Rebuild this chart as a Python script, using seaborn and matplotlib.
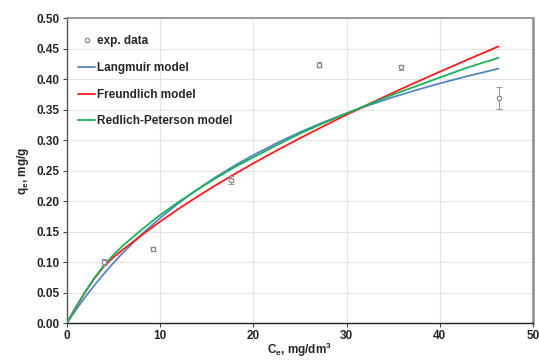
import matplotlib
matplotlib.use("Agg")
import matplotlib.pyplot as plt
from matplotlib.lines import Line2D
import numpy as np
import pandas as pd
import seaborn as sns

exp_c = [4.0, 9.3, 17.6, 27.1, 35.8, 46.3]
exp_q = [0.100, 0.122, 0.235, 0.424, 0.420, 0.370]
exp_err = [0.005, 0.003, 0.006, 0.004, 0.004, 0.018]

# model curves
model_c = [0, 1, 2, 3, 4, 5, 6, 8, 10, 12, 14, 16, 18, 20, 22.5, 25,
           27.5, 30, 32.5, 35, 37.5, 40, 43, 46.3]
langmuir_q = [0, 0.0223, 0.0432, 0.0628, 0.0813, 0.0987, 0.1151, 0.1453,
              0.1725, 0.1971, 0.2195, 0.2399, 0.2585, 0.2757, 0.2953,
              0.3132, 0.3295, 0.3444, 0.3581, 0.3708, 0.3825, 0.3933,
              0.4054, 0.4176]
freundlich_q = [0, 0.0265, 0.0515, 0.0740, 0.0935, 0.1080, 0.1205, 0.1440,
                0.1666, 0.1877, 0.2076, 0.2266, 0.2447, 0.2622, 0.2832,
                0.3034, 0.3229, 0.3418, 0.3602, 0.3781, 0.3955, 0.4125,
                0.4325, 0.4540]
redlich_q = [0, 0.027, 0.052, 0.075, 0.095, 0.112, 0.127, 0.153, 0.1775,
             0.199, 0.219, 0.238, 0.256, 0.272, 0.292, 0.311, 0.328, 0.344,
             0.360, 0.375, 0.389, 0.403, 0.4195, 0.4354]

models = [
    ("Langmuir model", langmuir_q, "#5585C8"),
    ("Freundlich model", freundlich_q, "#FF1A1A"),
    ("Redlich-Peterson model", redlich_q, "#1DB15A"),
]

sns.set_theme(style="white")
plt.rcParams["font.family"] = ["Liberation Sans", "DejaVu Sans"]
plt.rcParams["font.weight"] = "bold"
plt.rcParams["mathtext.fontset"] = "custom"
plt.rcParams["mathtext.rm"] = "Liberation Sans:bold"
plt.rcParams["mathtext.bf"] = "Liberation Sans:bold"
plt.rcParams["mathtext.it"] = "Liberation Sans:bold"

fig = plt.figure(figsize=(5.39, 3.6), dpi=100)
ax = fig.add_axes([0.1237, 0.102, 0.8653, 0.847])

ax.errorbar(exp_c, exp_q, yerr=exp_err, fmt="o", ms=3.2, mfc="white",
            mec="#808080", mew=0.8, ecolor="#999999", elinewidth=0.8,
            capsize=2, capthick=0.8, zorder=4)

handles = [Line2D([], [], ls="none", marker="o", ms=3.2, mfc="white",
                  mec="#808080", mew=0.8)]
labels = ["exp. data"]
for name, vals, col in models:
    df = pd.DataFrame({"c": model_c, "q": vals})
    sns.lineplot(data=df, x="c", y="q", color=col, lw=1.3, sort=False,
                 estimator=None, ax=ax, zorder=3)
    handles.append(Line2D([], [], color=col, lw=1.3))
    labels.append(name)

ax.set_xlim(0, 50)
ax.set_ylim(0, 0.5)
ax.set_xticks(np.arange(0, 51, 10))
ax.set_yticks(np.arange(0, 0.501, 0.05))
ax.set_yticklabels([f"{v:.2f}" for v in np.arange(0, 0.501, 0.05)])
ax.grid(True, color="#e3e3e3", lw=0.8)
ax.set_axisbelow(True)

for s in ["top", "right"]:
    ax.spines[s].set_color("#8c8c8c")
ax.spines["top"].set_linewidth(1.2)
ax.spines["right"].set_linewidth(1.8)
ax.spines["left"].set_color("#555555")
ax.spines["left"].set_linewidth(1.0)
ax.spines["bottom"].set_color("#222222")
ax.spines["bottom"].set_linewidth(1.0)

ax.tick_params(axis="both", which="major", labelsize=8.5, length=3,
               width=0.8, color="#444444", direction="out",
               bottom=True, left=True, pad=2)
for lab in ax.get_xticklabels() + ax.get_yticklabels():
    lab.set_fontweight("bold")

ax.set_xlabel(r"C$_{\rm e}$, mg/dm$^{\rm 3}$", fontsize=8.5,
              fontweight="bold", labelpad=-1)
ax.set_ylabel(r"q$_{\rm e}$, mg/g", fontsize=8.5, fontweight="bold",
              labelpad=4)

leg = ax.legend(handles, labels, loc="upper left",
                bbox_to_anchor=(0.006, 0.972), frameon=False, fontsize=8.5,
                handlelength=1.5, handletextpad=0.1, labelspacing=1.25,
                borderaxespad=0.3)
for t in leg.get_texts():
    t.set_fontweight("bold")

fig.savefig("out.png", dpi=100)
